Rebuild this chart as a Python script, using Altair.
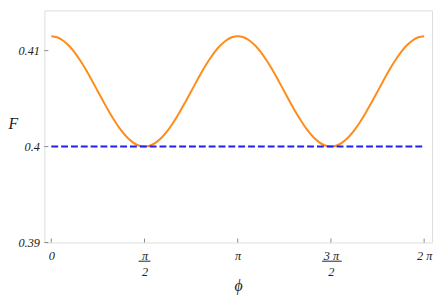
import altair as alt
import pandas as pd
import math

PI = math.pi
phi_curve = [k * PI / 32 for k in range(65)]
F_curve = [
    0.41150, 0.41139, 0.41106, 0.41053, 0.40982, 0.40894, 0.40795, 0.40687,
    0.40575, 0.40463, 0.40355, 0.40256, 0.40168, 0.40097, 0.40044, 0.40011,
    0.40000, 0.40011, 0.40044, 0.40097, 0.40168, 0.40256, 0.40355, 0.40463,
    0.40575, 0.40687, 0.40795, 0.40894, 0.40982, 0.41053, 0.41106, 0.41139,
    0.41150, 0.41139, 0.41106, 0.41053, 0.40982, 0.40894, 0.40795, 0.40687,
    0.40575, 0.40463, 0.40355, 0.40256, 0.40168, 0.40097, 0.40044, 0.40011,
    0.40000, 0.40011, 0.40044, 0.40097, 0.40168, 0.40256, 0.40355, 0.40463,
    0.40575, 0.40687, 0.40795, 0.40894, 0.40982, 0.41053, 0.41106, 0.41139,
    0.41150,
]
# Blue dashed reference line
phi_ref = [0, 2 * PI]
F_ref = [0.4, 0.4]
# Ticks
x_ticks = [0, PI / 2, PI, 3 * PI / 2, 2 * PI]
y_ticks = [0.39, 0.40, 0.41]

W, H = 394, 236
FONT = "Liberation Serif"

curve = pd.DataFrame({"phi": phi_curve, "F": F_curve})
ref = pd.DataFrame({"phi": phi_ref, "F": F_ref})
xt = pd.DataFrame({"phi": x_ticks})
yt = pd.DataFrame({"F": y_ticks})

xs = alt.Scale(domain=[-0.116, 6.416], nice=False, zero=False)
ys = alt.Scale(domain=[0.39, 0.4142], nice=False, zero=False)

label_expr = ("abs(datum.value) < 0.01 ? '0' : abs(datum.value - 1.5708) < 0.01 ? ['π', '2'] : "
              "abs(datum.value - 3.1416) < 0.01 ? 'π' : abs(datum.value - 4.7124) < 0.01 ? ['3 π', '2'] : '2 π'")

xaxis = alt.Axis(values=x_ticks, labelExpr=label_expr, ticks=False, domain=False, grid=False,
                 labelFont=FONT, labelFontStyle="italic", labelFontSize=12.5, labelColor="#222",
                 labelPadding=7, labelLineHeight=17, labelFlush=False,
                 title="ϕ", titleFont=FONT, titleFontStyle="italic", titleFontWeight="normal",
                 titleFontSize=16, titleColor="#222", titleY=44, titleBaseline="middle")
yaxis = alt.Axis(values=y_ticks, format="~g", ticks=False, domain=False, grid=False,
                 labelFont=FONT, labelFontStyle="italic", labelFontSize=12.5, labelColor="#222",
                 labelPadding=5, labelFlush=False,
                 title="F", titleFont=FONT, titleFontStyle="italic", titleFontWeight="normal",
                 titleFontSize=16, titleColor="#222", titleAngle=0, titleX=-37, titleY=115,
                 titleAlign="left", titleBaseline="middle")

line = alt.Chart(curve).mark_line(color="#FF8C1A", strokeWidth=2, interpolate="catmull-rom").encode(
    x=alt.X("phi:Q", scale=xs, axis=xaxis),
    y=alt.Y("F:Q", scale=ys, axis=yaxis),
)
dash = alt.Chart(ref).mark_line(color="#2020F0", strokeWidth=2, strokeDash=[7, 3]).encode(
    x=alt.X("phi:Q", scale=xs), y=alt.Y("F:Q", scale=ys)
)
xtick_marks = alt.Chart(xt).mark_rule(color="#888", strokeWidth=1).encode(
    x=alt.X("phi:Q", scale=xs), y=alt.value(H), y2=alt.value(H - 4)
)
ytick_marks = alt.Chart(yt).mark_rule(color="#888", strokeWidth=1).encode(
    y=alt.Y("F:Q", scale=ys), x=alt.value(0), x2=alt.value(4)
)
bar1 = alt.Chart(pd.DataFrame({"phi": [PI / 2]})).mark_rule(
    color="#222", strokeWidth=1, xOffset=-6, x2Offset=6).encode(
    x=alt.X("phi:Q", scale=xs), x2="phi", y=alt.value(H + 19)
)
bar2 = alt.Chart(pd.DataFrame({"phi": [3 * PI / 2]})).mark_rule(
    color="#222", strokeWidth=1, xOffset=-9, x2Offset=11).encode(
    x=alt.X("phi:Q", scale=xs), x2="phi", y=alt.value(H + 19)
)

chart = alt.layer(line, dash, xtick_marks, ytick_marks, bar1, bar2).properties(
    width=W, height=H,
    autosize=alt.AutoSizeParams(type="none"),
    padding={"left": 37, "top": 0, "right": 1, "bottom": 53},
).configure_view(stroke="#999", strokeWidth=1).configure(background="white")

chart.save("out.html", embed_options={"renderer": "svg", "actions": False})
